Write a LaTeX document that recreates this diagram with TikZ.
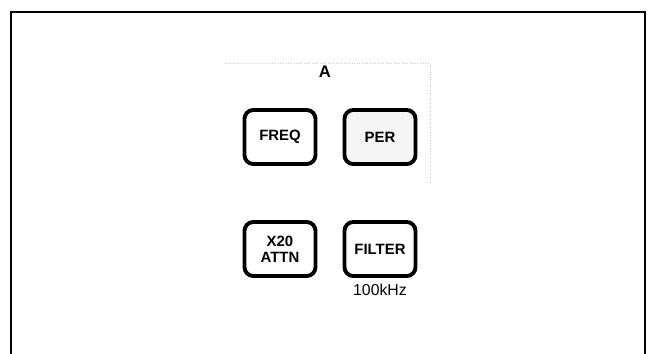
\documentclass[tikz,border=0pt]{standalone}
\usepackage{fontspec}
\setmainfont{Liberation Sans}
\usepackage{tikz}
\usetikzlibrary{positioning}

\begin{document}
\begin{tikzpicture}[
  key/.style={draw, rounded corners=5pt, line width=2.2pt,
              minimum width=1.42cm, minimum height=1.08cm,
              align=center, font=\bfseries\fontsize{8.5}{9}\selectfont},
  lbl/.style={font=\fontsize{9}{10}\selectfont},
  frame/.style={draw, line width=1.1pt}
]
\useasboundingbox (0,0) rectangle (13.02,7.08);

% Panel outline (open at the bottom)
\draw[frame] (0.22,0) -- (0.22,6.84) -- (12.9,6.84) -- (12.9,0);

% Faint group outline round the A keys
\draw[gray!40, densely dotted, line width=0.5pt] (4.5,5.82) -- (8.6,5.82) -- (8.6,3.4);
\node[font=\bfseries\fontsize{9.5}{10}\selectfont] (grpA) at (6.5,5.64) {A};

% Keys
\node[key] (freq) at (5.6,4.34) {FREQ};
\node[key, fill=gray!8] (per) at (7.6,4.34) {PER};
\node[key] (attn) at (5.6,2.1) {X20\\ATTN};
\node[key] (filter) at (7.6,2.1) {FILTER};

% Filter cut-off
\node[lbl, below=0cm of filter] (cutoff) {100kHz};

\end{tikzpicture}
\end{document}
